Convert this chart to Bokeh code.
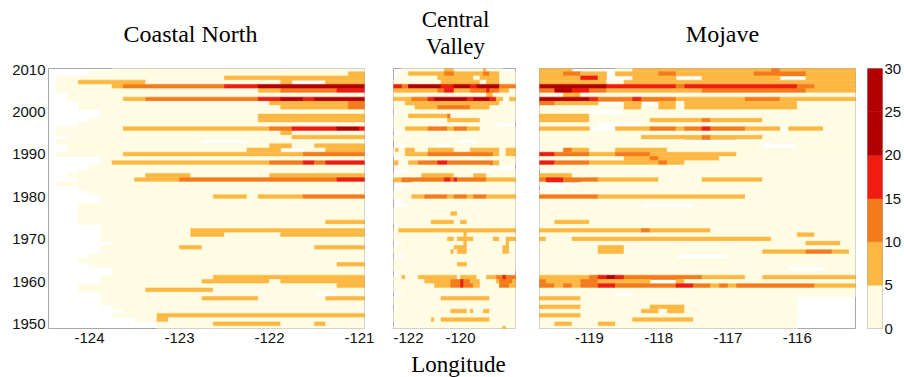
from bokeh.plotting import figure
from bokeh.layouts import row, column
from bokeh.models import Range1d, FixedTicker, LinearColorMapper, ColumnDataSource
from bokeh.core.properties import value
from bokeh.embed import file_html
from bokeh.resources import INLINE

# ---------------- data ----------------
years = list(range(2010, 1948, -1))          # one row per year, top to bottom
cell_deg = 0.125                              # grid spacing (deg longitude)
bin_edges = [0, 5, 10, 15, 20, 25, 30]
palette = ["#FFFCE4", "#FDB843", "#F47B1B", "#EE1D10", "#B20000", "#B20000"]
class_values = {"0": 2.5, "1": 7.5, "2": 12.5, "3": 17.5, "4": 22.5}

panel_titles = ["Coastal North", "Central\nValley", "Mojave"]
x_title = "Longitude"

# each row: "startColumn:class" runs ('.' = no data)
coastal_x0 = -124.5
coastal_ncol = 29
coastal_rows = [
    "0:. 6:0", "0:. 4:0 27:1", "0:. 1:0 16:1", "0:. 1:0 3:1 9:0 21:1 22:. 25:1",
    "0:. 1:0 6:1 7:2 16:3 19:4", "0:. 1:0 19:1 21:2 26:3", "0:. 2:0",
    "0:. 2:0 7:1 9:2 19:3 21:4 23:3 24:4", "0:. 3:0 20:1 27:2", "0:. 3:0 21:1 27:2",
    "0:. 5:0", "0:. 5:0 19:1", "0:. 4:0 19:1", "0:. 3:0",
    "0:. 1:0 7:1 20:2 22:3 26:4 28:3", "0:. 1:0 21:1 22:0", "0:. 2:0 22:1",
    "0:. 1:0 14:. 18:0", "0:. 2:0 20:1 22:0 24:1", "0:. 2:0 18:1 21:. 23:0 25:1",
    "0:. 1:0 7:1 23:2", "0:. 5:0", "0:. 5:0 6:1 20:2 23:3 24:2 25:3", "0:. 4:0",
    "0:. 3:0", "0:. 2:0 9:1 13:0 20:1", "0:. 3:0 8:1 12:2 26:3", "0:. 1:0",
    "0:. 3:0", "0:. 4:0", "0:. 5:0 15:1 18:0 19:1 23:2", "0:. 5:0", "0:. 3:0",
    "0:. 3:0", "0:. 3:0", "0:. 3:0", "0:. 3:0 25:1", "0:. 5:0", "0:. 5:0 13:1",
    "0:. 5:0 13:1 16:0 21:1", "0:. 5:0", "0:. 6:0", "0:. 5:0 12:1 14:0 24:1",
    "0:. 5:0", "0:. 4:0", "0:. 3:0", "0:. 4:0 26:1", "0:. 6:0", "0:. 6:0",
    "0:. 5:0 15:1", "0:. 5:0 14:1 20:0 21:1", "0:. 3:0 26:1", "0:. 3:0 9:1 15:0",
    "0:. 5:0 24:. 26:0", "0:. 5:0 14:1 19:0 25:1", "0:. 5:0", "0:. 6:0", "0:. 7:0",
    "0:. 6:0 10:1", "0:. 8:0 10:1 11:0", "0:. 10:0 15:1 21:0 24:1 25:0", "0:. 10:0",
]

valley_x0 = -122.625
valley_ncol = 38
valley_rows = [
    "0:. 3:0 16:1 19:0 28:1 29:0 34:.", "0:. 2:0 5:1 16:2 19:1 28:2 30:1 33:0",
    "0:. 1:0 14:1 25:0 27:1 33:0", "0:0 15:1 27:0 29:1 33:0",
    "0:3 3:2 5:4 15:3 19:4 24:3 26:4 33:2", "0:1 14:2 16:3 19:1 24:2 29:3 30:2 33:1 36:0",
    "0:0 29:1 31:0", "0:1 6:2 11:3 13:4 23:3 25:4 30:3 32:1 34:. 36:1",
    "0:0 4:1 33:0", "0:0 7:1 14:2 24:1 30:0", "0:. 2:0", "0:0 5:1 17:2 18:0",
    "0:0 17:1 27:0", "0:0 32:.", "0:0 4:1 11:2 17:1 19:2 23:1 27:0", "0:. 3:0",
    "0:0", "0:. 1:0 20:. 26:0", "0:. 4:0 13:. 18:0",
    "0:0 1:1 2:0 4:1 7:0 11:1 19:0 24:1 33:0 35:1", "0:0 4:1 11:2 31:1 33:0 35:1",
    "0:. 3:0", "0:1 2:0 5:1 8:2 14:3 17:2 31:1 33:0", "0:. 2:0 30:.",
    "0:. 5:0 24:. 30:0", "0:0 9:1 19:0 25:1 29:0", "0:1 3:2 16:3 18:2 19:3 20:2 29:1",
    "0:. 6:0", "0:. 3:0", "0:0", "0:0 6:1 10:2 17:1 19:2 23:1 25:2 29:1",
    "0:. 3:0", "0:. 5:0", "0:0", "0:0 18:1 20:0", "0:0", "0:0 12:1 19:0 21:1 23:0",
    "0:. 2:0", "0:0 2:1", "0:0 22:1 23:0", "0:0 17:1 19:0 20:1 25:0 31:1 33:0 35:1",
    "0:. 3:0 22:1 23:0 35:1 36:0", "0:0 19:1 23:0 34:1 36:0",
    "0:0 18:1 19:0 20:1 23:0 34:1 36:0", "0:. 4:0", "0:0", "0:0 20:1 23:0", "0:0",
    "0:. 2:0 36:.", "0:0 3:1 4:0 8:1 20:0 21:1 26:0 29:1 32:2 34:3 35:2",
    "0:0 10:1 18:2 21:3 22:2 24:1 27:0 32:1 33:2 37:1",
    "0:0 13:1 18:2 21:3 22:2 25:1 27:0 33:2 36:1", "0:0", "0:. 3:0",
    "0:0 15:1 30:0", "0:0", "0:. 2:0", "0:0 18:1 23:0 24:1 25:0 28:1 30:0", "0:0",
    "0:0 12:1 13:0 15:1 30:0", "0:. 2:0", "0:0 34:1 35:0",
]

mojave_x0 = -119.75
mojave_ncol = 37
mojave_rows = [
    "0:1 4:. 9:0 11:1 27:2 28:1", "0:1 3:2 5:1 8:. 9:1 14:2 16:1 25:2 31:1",
    "0:1 5:3 7:1 8:. 11:1 16:. 19:1 28:. 31:1", "0:1 8:0 10:1",
    "0:4 8:3 16:2 17:3 30:2 32:1", "0:2 2:4 4:3 6:2 8:1 19:2 31:1", "0:0 3:1 5:0",
    "0:4 6:3 7:2 11:3 12:2 16:1 24:2 28:1", "0:2 2:1 7:. 10:1 12:. 14:1 16:0 17:1 30:0",
    "0:0 10:1 12:0 14:1 16:0 17:1 30:0", "0:0 6:. 10:0", "0:1 6:0",
    "0:1 6:0 13:1 19:2 20:1 26:0", "0:0 7:. 12:0",
    "0:1 6:. 9:1 13:2 16:1 17:2 19:3 20:2 24:1 28:. 29:1 33:0", "0:0",
    "0:0 12:1 19:2 20:1 26:0", "0:0 17:. 23:0", "0:0 26:. 30:0",
    "0:0 3:2 4:1 6:0 9:1 15:0", "0:3 2:2 6:1 9:2 13:1 23:0", "0:0 10:1 13:2 14:1 21:0",
    "0:3 2:2 6:1 14:2 15:1 17:0", "0:0", "0:. 1:0", "0:1 4:0",
    "0:2 1:3 3:2 7:1 14:0 19:1 26:0", "0:0 1:. 5:0", "0:. 3:0", "0:0",
    "0:2 7:1 24:0", "0:0", "0:0 12:. 18:0", "0:0", "0:0", "0:0", "0:0 2:1 6:0",
    "0:0", "0:1 12:2 13:1 20:0", "0:0 30:1 32:0", "0:1 1:0 4:1 27:0",
    "0:0 31:1 35:0", "0:0 7:1 10:0", "0:0 7:1 10:0 26:1 31:2 34:1 36:0",
    "0:0 16:. 22:0", "0:0", "0:0", "0:0 29:. 33:0", "0:0",
    "0:1 6:2 7:3 8:4 9:3 10:2 19:1 24:0 26:1", "0:2 1:1 5:2 7:1 13:. 16:1 17:0",
    "0:2 2:1 3:2 4:1 5:2 7:3 9:2 16:3 18:2 20:1 21:2 22:1 23:2 32:1",
    "0:0", "0:0 9:. 11:0", "0:1 5:0 30:.", "0:0 30:.", "0:1 5:0 13:1 17:0 30:.",
    "0:0 12:1 14:0 15:1 17:0 30:.", "0:1 5:0 30:.", "0:0 11:1 18:0 30:.",
    "0:0 2:1 4:0 7:1 9:0 30:.", "0:0 30:.",
]

coastal_ticks = [-124, -123, -122, -121]
valley_ticks = [-122, -120]
mojave_ticks = [-119, -118, -117, -116]
year_ticks = [1950, 1960, 1970, 1980, 1990, 2000, 2010]
cbar_ticks = [0, 5, 10, 15, 20, 25, 30]

# ---------------- helpers ----------------
mapper = LinearColorMapper(palette=palette, low=bin_edges[0], high=bin_edges[-1])
TICK_FONT = "Liberation Sans"
SERIF = "Liberation Serif"
GRAY = "#a8a8a8"
PANEL_H = 290          # row of panels: frame 262 px, 6 px above, 22 px below


def runs_to_source(rows, x0, ncol):
    d = dict(left=[], right=[], bottom=[], top=[], v=[])
    for yr, spec in zip(years, rows):
        toks = [t.split(":") for t in spec.split()]
        for i, (s, c) in enumerate(toks):
            start = int(s)
            end = int(toks[i + 1][0]) if i + 1 < len(toks) else ncol
            if c == "." or end <= start:
                continue
            d["left"].append(x0 + start * cell_deg)
            d["right"].append(x0 + end * cell_deg)
            d["bottom"].append(yr - 0.5)
            d["top"].append(yr + 0.5)
            d["v"].append(class_values[c])
    return ColumnDataSource(d)


def style(p):
    p.outline_line_color = GRAY
    p.outline_line_width = 1
    p.background_fill_color = "white"
    p.border_fill_color = "white"
    p.xgrid.visible = False
    p.ygrid.visible = False
    for ax in p.axis:
        ax.axis_line_color = None
        ax.major_tick_line_color = None
        ax.minor_tick_line_color = None
        ax.major_tick_out = 0
        ax.major_tick_in = 0
        ax.minor_tick_out = 0
        ax.minor_tick_in = 0
        ax.major_label_text_font = TICK_FONT
        ax.major_label_text_font_size = "15px"
        ax.major_label_text_color = "#111111"


def panel(rows, x0, ncol, xr, ticks, width, bl, br, yaxis):
    p = figure(width=width, height=PANEL_H, x_range=Range1d(*xr),
               y_range=Range1d(1948.95, 2010.25), output_backend="svg",
               toolbar_location=None, min_border_left=bl, min_border_right=br,
               min_border_top=6, min_border_bottom=22,
               y_axis_location="left" if yaxis else None)
    src = runs_to_source(rows, x0, ncol)
    p.quad(left="left", right="right", bottom="bottom", top="top", source=src,
           fill_color={"field": "v", "transform": mapper},
           line_color={"field": "v", "transform": mapper}, line_width=0.6)
    p.xaxis.ticker = FixedTicker(ticks=ticks)
    p.xaxis.major_label_overrides = {t: str(t) for t in ticks}
    p.xaxis.major_label_standoff = 4
    if yaxis:
        p.yaxis.ticker = FixedTicker(ticks=year_ticks)
        p.yaxis.major_label_standoff = 3
    style(p)
    return p


def strip(height):
    s = figure(width=904, height=height, x_range=Range1d(0, 904),
               y_range=Range1d(0, height), output_backend="svg",
               toolbar_location=None, min_border=0,
               x_axis_location=None, y_axis_location=None)
    s.outline_line_color = None
    s.xgrid.visible = False
    s.ygrid.visible = False
    s.border_fill_color = "white"
    return s


def label(s, xs, ys, texts, size):
    s.text(x=xs, y=ys, text=texts, text_font=value(SERIF), text_font_size=size,
           text_align="center", text_baseline="middle", text_color="black")


# panels (frames at x 48-364, 393-515, 539-855; y 66-328)
f1 = panel(coastal_rows, coastal_x0, coastal_ncol, (-124.456, -120.944),
           coastal_ticks, 378, 48, 14, True)
f2 = panel(valley_rows, valley_x0, valley_ncol, (-122.577, -117.885),
           valley_ticks, 143, 15, 6, False)
f3 = panel(mojave_rows, mojave_x0, mojave_ncol, (-119.72, -115.16),
           mojave_ticks, 340, 18, 6, False)

# colour bar drawn from the mapper bins
f4 = figure(width=43, height=PANEL_H, x_range=Range1d(0, 1),
            y_range=Range1d(bin_edges[0], bin_edges[-1]), output_backend="svg",
            toolbar_location=None, min_border_left=6, min_border_right=21,
            min_border_top=8, min_border_bottom=22, x_axis_location=None,
            y_axis_location="right")
cb = ColumnDataSource(dict(bottom=bin_edges[:-1], top=bin_edges[1:],
                           v=[(a + b) / 2 for a, b in zip(bin_edges[:-1], bin_edges[1:])]))
f4.quad(left=0, right=1, bottom="bottom", top="top", source=cb,
        fill_color={"field": "v", "transform": mapper},
        line_color={"field": "v", "transform": mapper}, line_width=0.6)
f4.yaxis.ticker = FixedTicker(ticks=cbar_ticks)
f4.yaxis.major_label_standoff = 2
style(f4)

# panel titles above (strip 60 px high, y measured from its bottom)
top = strip(60)
label(top, [190], [27], [panel_titles[0]], "24px")
label(top, [455, 455], [41, 14.5], panel_titles[1].split("\n"), "23px")
label(top, [722], [26.5], [panel_titles[2]], "24px")

# axis title under the middle panel
bottom = strip(27)
label(bottom, [458], [13], [x_title], "23px")

layout = column(top, row(f1, f2, f3, f4, spacing=0), bottom, spacing=0)
open("out.html", "w").write(file_html(layout, INLINE))
